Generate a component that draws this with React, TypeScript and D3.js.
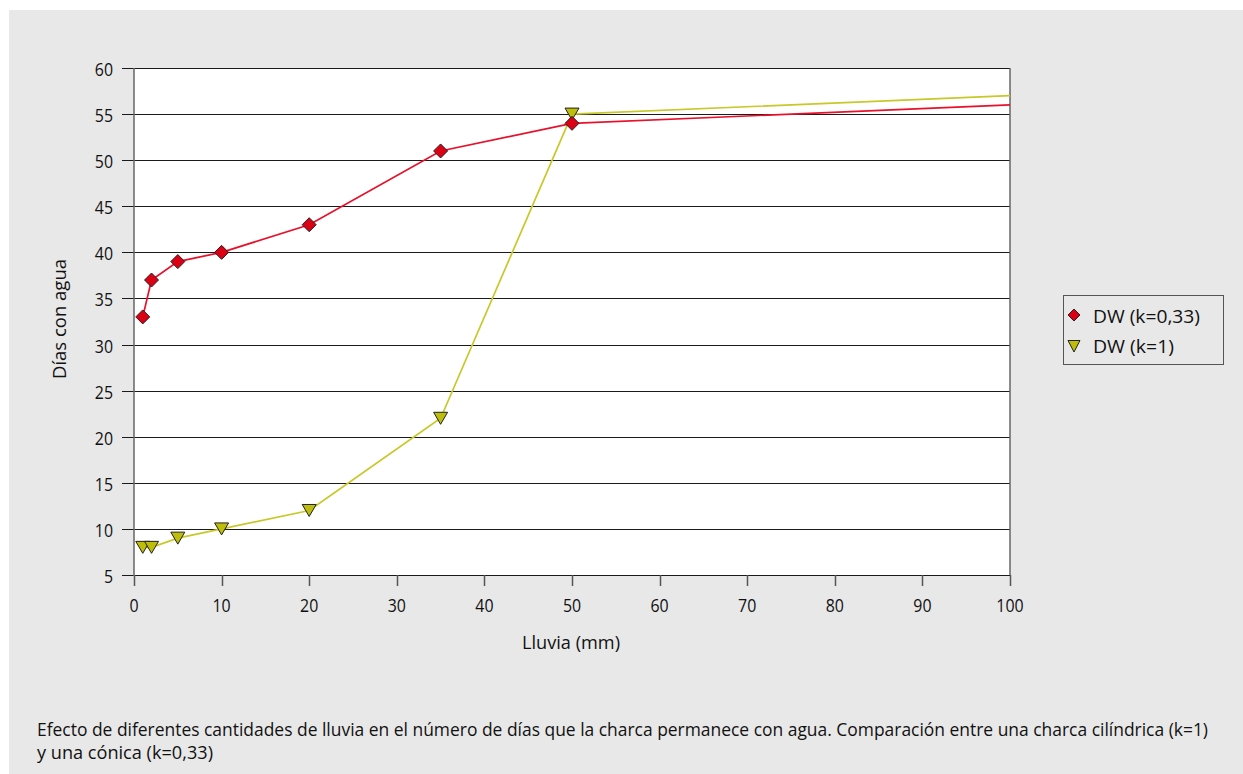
import { useEffect, useRef } from 'react';
import * as d3 from 'd3';

// rainfall (mm) on the x axis
const rainfall = [1, 2, 5, 10, 20, 35, 50, 100];
// days with water, conical pond (k=0,33)
const daysConical = [33, 37, 39, 40, 43, 51, 54, 56];
// days with water, cylindrical pond (k=1)
const daysCylindrical = [8, 8, 9, 10, 12, 22, 55, 57];

const xTicks = [0, 10, 20, 30, 40, 50, 60, 70, 80, 90, 100];
const yTicks = [5, 10, 15, 20, 25, 30, 35, 40, 45, 50, 55, 60];

const seriesNames = ['DW (k=0,33)', 'DW (k=1)'];
const captionLines = [
  'Efecto de diferentes cantidades de lluvia en el número de días que la charca permanece con agua. Comparación entre una charca cilíndrica (k=1)',
  'y una cónica (k=0,33)',
];

const FONT = '"Open Sans", sans-serif';
const FS = 18;
const DIGIT_W = 9.1;

export default function App() {
  const svgRef = useRef<SVGSVGElement>(null);

  useEffect(() => {
    if (!svgRef.current) return;
    const svg = d3.select(svgRef.current);
    svg.selectAll('*').remove();

    const W = 1243;
    const H = 774;

    svg.append('rect').attr('x', 9).attr('y', 10).attr('width', W - 9).attr('height', H - 10).attr('fill', '#e8e8e8');

    const plot = { left: 134, top: 68, right: 1010, bottom: 575 };
    const x = d3.scaleLinear().domain([0, 100]).range([plot.left, plot.right]);
    const y = d3.scaleLinear().domain([5, 60]).range([plot.bottom, plot.top]);

    // condensed-looking text: Open Sans squeezed to the widths of the original
    const txt = (sel: any, s: string, width: number, size = FS) =>
      sel.append('text')
        .attr('font-family', FONT).attr('font-size', size)
        .attr('fill', '#111')
        .attr('textLength', width).attr('lengthAdjust', 'spacingAndGlyphs')
        .text(s);

    svg.append('rect')
      .attr('x', plot.left).attr('y', plot.top)
      .attr('width', plot.right - plot.left).attr('height', plot.bottom - plot.top)
      .attr('fill', '#fff');

    const g = svg.append('g');
    yTicks.forEach(t => {
      const yy = Math.round(y(t)) + 0.5;
      g.append('line')
        .attr('x1', plot.left - 12).attr('x2', plot.right)
        .attr('y1', yy).attr('y2', yy)
        .attr('stroke', '#1a1a1a').attr('stroke-width', 1.2);
      const s = String(t);
      txt(g, s, s.length * DIGIT_W)
        .attr('x', 113 - s.length * DIGIT_W).attr('y', y(t) + 8);
    });

    xTicks.forEach(t => {
      const xx = Math.round(x(t)) + 0.5;
      g.append('line')
        .attr('x1', xx).attr('x2', xx)
        .attr('y1', plot.bottom).attr('y2', plot.bottom + 11)
        .attr('stroke', '#555').attr('stroke-width', 1.5);
      const s = String(t);
      txt(g, s, s.length * DIGIT_W)
        .attr('x', x(t) - (s.length * DIGIT_W) / 2).attr('y', 612);
    });

    g.append('line')
      .attr('x1', plot.left).attr('x2', plot.left)
      .attr('y1', plot.top).attr('y2', plot.bottom + 1)
      .attr('stroke', '#666').attr('stroke-width', 1.5);
    g.append('line')
      .attr('x1', plot.right).attr('x2', plot.right)
      .attr('y1', plot.top).attr('y2', plot.bottom)
      .attr('stroke', '#666').attr('stroke-width', 1.5);

    const line = d3.line<[number, number]>().x(d => x(d[0])).y(d => y(d[1]));

    const redPts = rainfall.map((r, i) => [r, daysConical[i]] as [number, number]);
    const yelPts = rainfall.map((r, i) => [r, daysCylindrical[i]] as [number, number]);

    svg.append('path').attr('d', line(yelPts)).attr('fill', 'none').attr('stroke', '#c8c828').attr('stroke-width', 1.7);
    svg.append('path').attr('d', line(redPts)).attr('fill', 'none').attr('stroke', '#e8102a').attr('stroke-width', 1.7);

    const diamond = 'M0,-7L7,0L0,7L-7,0Z';
    const triangle = 'M-7,-6L7,-6L0,6Z';

    yelPts.slice(0, -1).forEach(p => {
      svg.append('path').attr('d', triangle)
        .attr('transform', `translate(${x(p[0])},${y(p[1])})`)
        .attr('fill', '#bdbd0a').attr('stroke', '#222').attr('stroke-width', 1);
    });
    redPts.slice(0, -1).forEach(p => {
      svg.append('path').attr('d', diamond)
        .attr('transform', `translate(${x(p[0])},${y(p[1])})`)
        .attr('fill', '#dc0014').attr('stroke', '#222').attr('stroke-width', 1);
    });

    // axis titles
    const yt = svg.append('g').attr('transform', 'translate(66,319) rotate(-90)');
    txt(yt, 'Días con agua', 120).attr('x', -60).attr('y', 0);
    txt(svg, 'Lluvia (mm)', 98).attr('x', 522).attr('y', 649);

    // legend
    const lg = svg.append('g').attr('transform', 'translate(1063,295)');
    lg.append('rect').attr('x', 0.5).attr('y', 0.5).attr('width', 160).attr('height', 69)
      .attr('fill', 'none').attr('stroke', '#555').attr('stroke-width', 1);
    lg.append('path').attr('d', 'M0,-6L6,0L0,6L-6,0Z').attr('transform', 'translate(11,20)')
      .attr('fill', '#dc0014').attr('stroke', '#222');
    lg.append('path').attr('d', 'M-6,-5.5L6,-5.5L0,6Z').attr('transform', 'translate(11,51)')
      .attr('fill', '#bdbd0a').attr('stroke', '#222');
    const legendW = [107, 81];
    seriesNames.forEach((n, i) => {
      txt(lg, n, legendW[i]).attr('x', 30).attr('y', 28 + i * 30);
    });

    // caption
    const capW = [1171, 176];
    captionLines.forEach((c, i) => {
      txt(svg, c, capW[i], 17.4).attr('x', 37).attr('y', 736 + i * 23);
    });
  }, []);

  return (
    <svg
      ref={svgRef}
      width={1243}
      height={774}
      style={{ position: 'absolute', left: 0, top: 0, display: 'block' }}
    />
  );
}
